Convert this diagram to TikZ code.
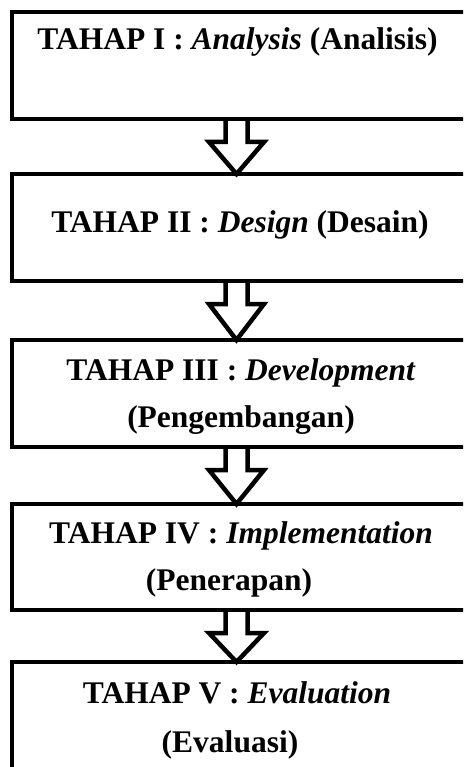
\documentclass[tikz,border=0pt]{standalone}
\usepackage{fontspec}
\setmainfont{Liberation Serif}
\usetikzlibrary{calc}
\newcommand{\stagearrow}[2]{%
  \draw[arrowline]
    ([xshift=-13.5pt]#1.south) -- ([xshift=-13.5pt,yshift=-23pt]#1.south)
    -- ([xshift=-30pt,yshift=-23pt]#1.south) -- ([xshift=-2.5pt]#2.north)
    -- ([xshift=25pt,yshift=-23pt]#1.south) -- ([xshift=8.5pt,yshift=-23pt]#1.south)
    -- ([xshift=8.5pt]#1.south);}
\begin{document}
\begin{tikzpicture}[x=1pt,y=-1pt,
  stagebox/.style={draw=black,line width=4.5pt,line join=miter,rectangle,
    minimum width=454pt,inner sep=0pt,outer sep=0pt},
  arrowline/.style={draw=black,line width=4.5pt,line join=miter},
  lbl/.style={anchor=base,inner sep=0pt,
    font=\fontsize{31.5}{47}\selectfont\bfseries}]
\useasboundingbox (0,0) rectangle (463,767);
\clip (0,0) rectangle (463,767);
\node[stagebox,minimum height=107pt] (b1) at (239,65.5) {};
\node[stagebox,minimum height=107pt] (b2) at (239,227.5) {};
\node[stagebox,minimum height=107pt] (b3) at (239,393.5) {};
\node[stagebox,minimum height=106pt] (b4) at (239,557) {};
\node[stagebox,minimum height=118pt] (b5) at (239,721) {};
\stagearrow{b1}{b2}
\stagearrow{b2}{b3}
\stagearrow{b3}{b4}
\stagearrow{b4}{b5}
\node[lbl] (t1) at (237.5,50) {TAHAP I : \textit{Analysis} (Analisis)};
\node[lbl] (t2) at (240,232) {TAHAP II : \textit{Design} (Desain)};
\node[lbl] (t3a) at (241,380) {TAHAP III : \textit{Development}};
\node[lbl] (t3b) at (241,427) {(Pengembangan)};
\node[lbl] (t4a) at (241,543) {TAHAP IV : \textit{Implementation}};
\node[lbl] (t4b) at (229,590) {(Penerapan)};
\node[lbl] (t5a) at (237,703) {TAHAP V : \textit{Evaluation}};
\node[lbl] (t5b) at (230,752) {(Evaluasi)};
\end{tikzpicture}
\end{document}
